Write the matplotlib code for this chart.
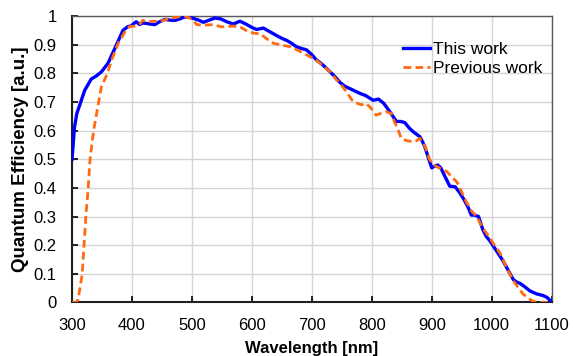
import matplotlib
matplotlib.use("Agg")
import matplotlib.pyplot as plt

# This work (blue)
wl_this = [300, 304, 308, 313, 321, 332, 340, 349, 360, 371, 385, 393, 398, 407, 413, 417,
           422, 430, 438, 446, 455, 466, 472, 480, 488, 497, 505, 512, 519, 528, 538, 548,
           558, 569, 580, 590, 600, 608, 619, 630, 641, 650, 658, 666, 674, 682, 691, 700,
           707, 718, 730, 740, 747, 755, 765, 780, 790, 802, 811, 820, 830, 841, 848, 855,
           862, 869, 880, 885, 889, 895, 900, 904, 910, 915, 922, 930, 939, 946, 953, 960,
           966, 972, 978, 985, 991, 997, 1008, 1019, 1028, 1036, 1041, 1047, 1055, 1064,
           1075, 1086, 1092, 1097, 1100]
qe_this = [0.50, 0.61, 0.66, 0.69, 0.74, 0.78, 0.79, 0.805, 0.835, 0.885, 0.95, 0.963, 0.965,
           0.98, 0.97, 0.975, 0.975, 0.972, 0.97, 0.98, 0.988, 0.985, 0.985, 0.99, 0.997,
           0.995, 0.99, 0.985, 0.978, 0.985, 0.993, 0.99, 0.98, 0.972, 0.982, 0.972, 0.96,
           0.953, 0.958, 0.945, 0.932, 0.922, 0.915, 0.905, 0.893, 0.887, 0.882, 0.865, 0.848,
           0.83, 0.806, 0.785, 0.768, 0.755, 0.745, 0.73, 0.722, 0.706, 0.71, 0.695, 0.666,
           0.632, 0.632, 0.628, 0.61, 0.596, 0.579, 0.56, 0.54, 0.50, 0.47, 0.475, 0.48,
           0.47, 0.44, 0.406, 0.404, 0.385, 0.362, 0.335, 0.305, 0.305, 0.30, 0.255, 0.23,
           0.215, 0.18, 0.145, 0.11, 0.08, 0.072, 0.067, 0.055, 0.04, 0.03, 0.024, 0.018,
           0.008, 0.0]

# Previous work (orange, dashed)
wl_prev = [300, 306, 310, 314, 317, 320, 323, 327, 330, 336, 342, 349, 359, 366, 377, 390,
           396, 405, 413, 418, 427, 436, 446, 460, 471, 488, 496, 502, 508, 520, 535, 550,
           569, 582, 594, 604, 614, 625, 636, 650, 664, 675, 686, 697, 707, 718, 730, 741,
           747, 758, 769, 783, 790, 798, 807, 815, 824, 832, 838, 844, 849, 858, 869, 875,
           880, 889, 896, 903, 914, 925, 933, 942, 950, 958, 966, 975, 985, 997, 1005, 1014,
           1022, 1030, 1038, 1045, 1052, 1058, 1066, 1075, 1085, 1100]
qe_prev = [0.0, 0.0, 0.01, 0.06, 0.10, 0.20, 0.30, 0.40, 0.50, 0.60, 0.672, 0.753, 0.80,
           0.846, 0.905, 0.951, 0.963, 0.965, 0.972, 0.985, 0.98, 0.982, 0.98, 0.99, 0.995,
           1.0, 0.993, 0.985, 0.97, 0.968, 0.97, 0.962, 0.965, 0.96, 0.945, 0.94, 0.938, 0.92,
           0.905, 0.898, 0.893, 0.882, 0.87, 0.858, 0.846, 0.828, 0.806, 0.777, 0.765, 0.735,
           0.70, 0.69, 0.695, 0.68, 0.654, 0.66, 0.666, 0.66, 0.63, 0.602, 0.573, 0.565,
           0.561, 0.565, 0.573, 0.544, 0.50, 0.48, 0.468, 0.457, 0.44, 0.42, 0.385, 0.35,
           0.32, 0.30, 0.26, 0.225, 0.198, 0.172, 0.135, 0.10, 0.07, 0.05, 0.03, 0.02, 0.008,
           0.0, 0.0, 0.0]

x_ticks = [300, 400, 500, 600, 700, 800, 900, 1000, 1100]
y_ticks = [0, 0.1, 0.2, 0.3, 0.4, 0.5, 0.6, 0.7, 0.8, 0.9, 1.0]
y_tick_labels = ["0", "0.1", "0.2", "0.3", "0.4", "0.5", "0.6", "0.7", "0.8", "0.9", "1"]

plt.rcParams['font.family'] = ['Liberation Sans', 'DejaVu Sans']

fig = plt.figure(figsize=(5.73, 3.56), dpi=100)
ax = fig.add_axes([0.1257, 0.1503, 0.8371, 0.8047])

ax.plot(wl_this, qe_this, color='#0000ff', lw=2.4, label='This work', zorder=3,
        solid_joinstyle='round')
ax.plot(wl_prev, qe_prev, color='#ff6a10', lw=2.0, ls=(0, (2.8, 1.5)), label='Previous work',
        zorder=4)

ax.set_xlim(300, 1100)
ax.set_ylim(0, 1)
ax.set_xticks(x_ticks)
ax.set_yticks(y_ticks)
ax.set_yticklabels(y_tick_labels)
ax.grid(True, color='#d4d4d4', lw=1.0, zorder=0)
ax.set_axisbelow(True)
ax.tick_params(direction='in', length=4, width=1.2, labelsize=12, colors='black')
ax.tick_params(axis='x', pad=11)
ax.tick_params(axis='y', pad=11)
for s in ['left', 'bottom']:
    ax.spines[s].set_color('#202020')
    ax.spines[s].set_linewidth(1.5)
for s in ['top', 'right']:
    ax.spines[s].set_color('#595959')
    ax.spines[s].set_linewidth(1.0)

ax.set_xlabel('Wavelength [nm]', fontsize=12, fontweight='bold', labelpad=6)
ax.set_ylabel('Quantum Efficiency [a.u.]', fontsize=13.5, fontweight='bold', labelpad=3)

leg = ax.legend(loc='upper right', bbox_to_anchor=(0.995, 0.935), frameon=False,
                fontsize=12.5, handlelength=1.55, handletextpad=0.15, labelspacing=0.25,
                borderaxespad=0)

fig.savefig('out.png', dpi=100)
